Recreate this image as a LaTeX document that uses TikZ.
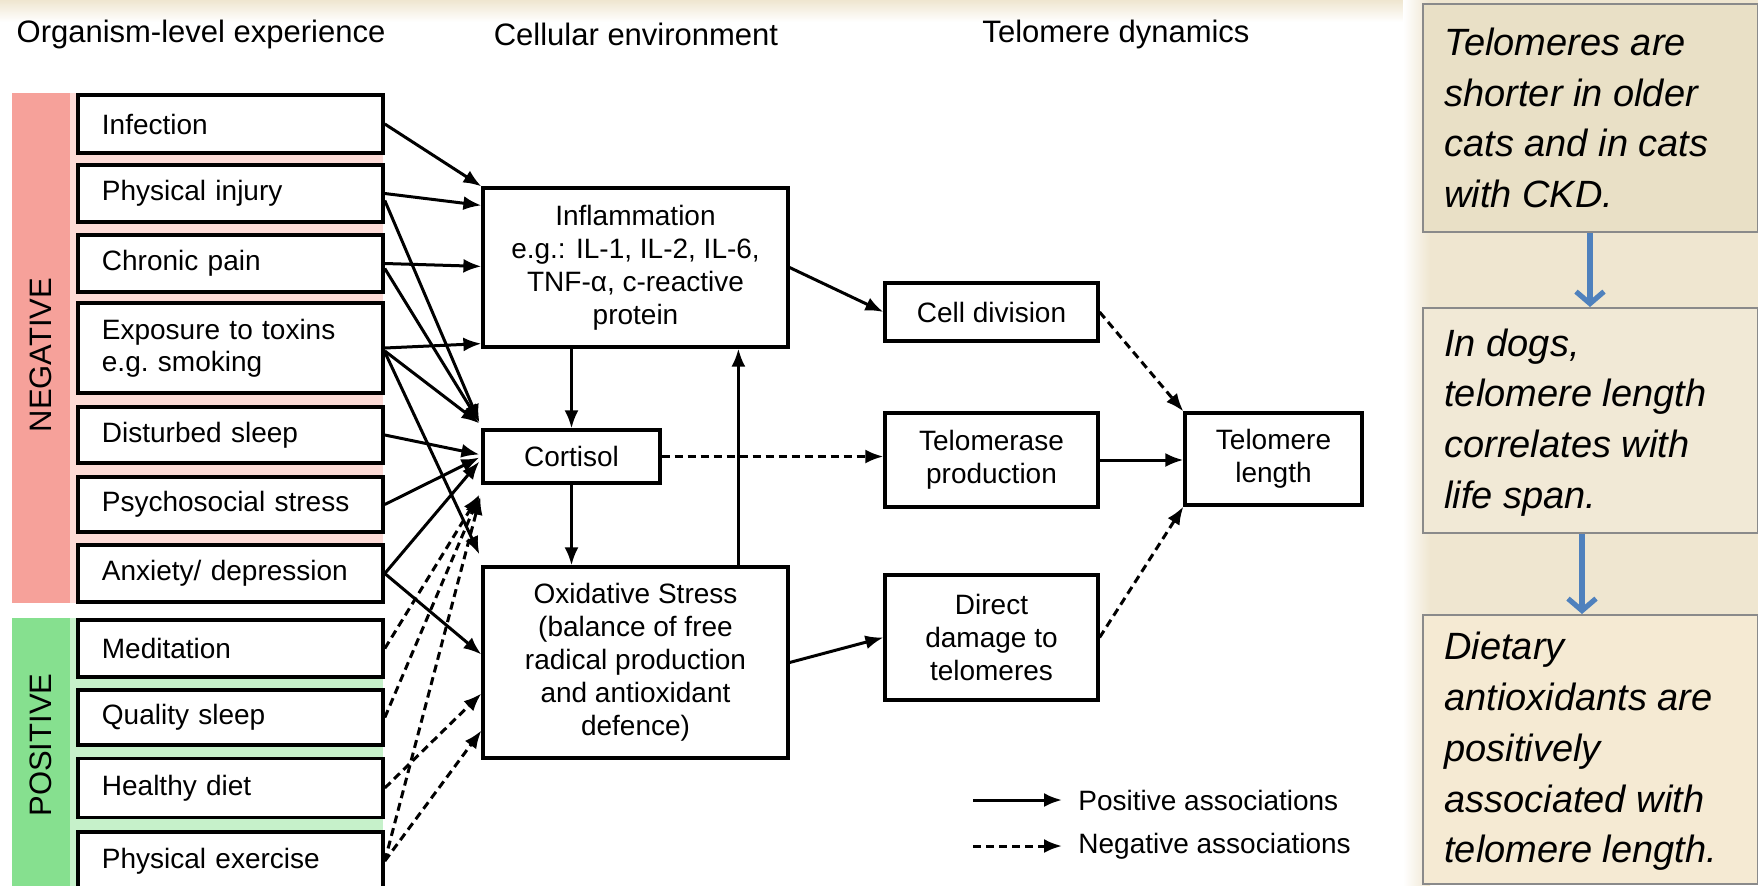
\documentclass[tikz,border=0pt]{standalone}
\usepackage{fontspec}
\setmainfont{Liberation Sans}
\usetikzlibrary{arrows.meta,calc}
\definecolor{negband}{HTML}{F6A19A}
\definecolor{neggap}{HTML}{FCDAD6}
\definecolor{posband}{HTML}{86E08F}
\definecolor{posgap}{HTML}{C6F1CA}
\definecolor{slidebg}{HTML}{EFE6D0}
\definecolor{noteA}{HTML}{E9E0C6}
\definecolor{noteB}{HTML}{F1E9D6}
\definecolor{noteC}{HTML}{F5EAD3}
\definecolor{notearrow}{HTML}{4F81BD}
\definecolor{notedraw}{HTML}{8A8A8A}
\begin{document}
\begin{tikzpicture}[x=0.5pt,y=-0.5pt,
 every node/.style={inner sep=0pt},
 expbox/.style={draw, line width=1.9pt, fill=white, anchor=west, text width=128.5pt, inner xsep=12pt, inner ysep=0pt, align=left, font=\fontsize{14}{16}\selectfont},
 cellbox/.style={draw, line width=1.6pt, fill=white, align=center, inner sep=0pt, font=\fontsize{14}{16.5}\selectfont},
 head/.style={font=\fontsize{15.5}{18}\selectfont},
 bandlabel/.style={rotate=90, font=\fontsize{15.5}{18}\selectfont},
 posarr/.style={line width=1.5pt, -{Latex[length=9pt,width=7pt]}},
 negarr/.style={posarr, dash pattern=on 4pt off 2.5pt},
 notebox/.style={draw=notedraw, line width=1pt, anchor=north west, minimum width=167.5pt, inner sep=0pt},
 notetext/.style={anchor=west, align=left, inner sep=0pt, font=\itshape\fontsize{19}{25.4}\selectfont},
 notearr/.style={draw=notearrow, line width=2.6pt, -{Straight Barb[length=6pt,width=14pt]}},
 legtext/.style={anchor=west, font=\fontsize{14}{16}\selectfont}
]
\useasboundingbox (0,0) rectangle (1758,885);
\clip (0,0) rectangle (1758,885);
% background
\fill[slidebg] (0,0) rectangle (1758,885);
\fill[white] (0,22) rectangle (1405,885);
\shade[top color=slidebg, bottom color=white] (0,0) rectangle (1405,22);
\shade[left color=white, right color=slidebg] (1403,0) rectangle (1430,885);
% bands
\fill[negband] (12,93) rectangle (70,603);
\fill[neggap] (70,93) rectangle (383,603);
\fill[posband] (12,618) rectangle (70,890);
\fill[posgap] (70,618) rectangle (383,890);
\node[bandlabel] (neg) at (41,355) {NEGATIVE};
\node[bandlabel] (posi) at (41,745) {POSITIVE};
% headers
\node[head] (h1) at (201,34) {Organism-level experience};
\node[head] (h2) at (636,34) {Cellular environment};
\node[head] (h3) at (1116,34) {Telomere dynamics};
% left boxes
\node[expbox, minimum height=29pt] (inf) at (76,124) {Infection};
\node[expbox, minimum height=28.5pt] (phys) at (76,193.5) {Physical injury};
\node[expbox, minimum height=28.5pt] (chron) at (76,263.5) {Chronic pain};
\node[expbox, minimum height=45pt] (expo) at (76,348) {Exposure to toxins\\e.g.\ smoking};
\node[expbox, minimum height=28pt] (sleepd) at (76,435) {Disturbed sleep};
\node[expbox, minimum height=27.5pt] (psy) at (76,504.5) {Psychosocial stress};
\node[expbox, minimum height=28.5pt] (anx) at (76,573.5) {Anxiety/ depression};
\node[expbox, minimum height=28.5pt] (medi) at (76,648.5) {Meditation};
\node[expbox, minimum height=27.5pt] (qsleep) at (76,717.5) {Quality sleep};
\node[expbox, minimum height=29.5pt] (diet) at (76,788) {Healthy diet};
\node[expbox, minimum height=29pt] (exer) at (76,861) {Physical exercise};
% cellular environment
\node[cellbox, minimum width=152.5pt, minimum height=79.5pt] (infl) at (635.5,267.5) {Inflammation\\e.g.: IL-1, IL-2, IL-6,\\TNF-α, c-reactive\\protein};
\node[cellbox, minimum width=88.5pt, minimum height=26.5pt] (cort) at (571.5,456.5) {Cortisol};
\node[cellbox, minimum width=152.5pt, minimum height=95.5pt] (oxid) at (635.5,662.5) {Oxidative Stress\\(balance of free\\radical production\\and antioxidant\\defence)};
% telomere dynamics
\node[cellbox, minimum width=106.5pt, minimum height=29pt] (cdiv) at (991.5,312) {Cell division};
\node[cellbox, minimum width=106.5pt, minimum height=47pt] (telo) at (991.5,460) {Telomerase\\production};
\node[cellbox, minimum width=106.5pt, minimum height=62.5pt] (dmg) at (991.5,637.5) {Direct\\damage to\\telomeres};
\node[cellbox, minimum width=88.5pt, minimum height=46pt] (tl) at (1273.5,459) {Telomere\\length};
% organism -> inflammation
\draw[posarr] (inf.east) -- (infl.north west);
\draw[posarr] (phys.east) -- ($(infl.north west)+(0,19)$);
\draw[posarr] (chron.east) -- ($(infl.north west)+(0,80)$);
\draw[posarr] (expo.east) -- ($(infl.south west)+(0,-5)$);
% organism -> cortisol
\draw[posarr] ($(phys.east)+(0,7)$) -- ($(cort.north west)+(-2,-6)$);
\draw[posarr] ($(chron.east)+(0,5)$) -- ($(cort.north west)+(-2,-6)$);
\draw[posarr] ($(expo.east)+(0,3)$) -- ($(cort.north west)+(-2,-5)$);
\draw[posarr] (sleepd.east) -- ($(cort.west)+(-2,-2)$);
\draw[posarr] (psy.east) -- ($(cort.west)+(-2,1)$);
\draw[posarr] (anx.east) -- ($(cort.west)+(-2,5)$);
% organism -> oxidative
\draw[posarr] ($(expo.east)+(0,4)$) -- ($(oxid.north west)+(-2,-11)$);
\draw[posarr] (anx.east) -- ($(oxid.west)+(0,-8)$);
% positive factors (dashed)
\draw[negarr] (medi.east) -- ($(cort.south west)+(-2,10)$);
\draw[negarr] (qsleep.east) -- ($(cort.south west)+(-2,11)$);
\draw[negarr] (exer.east) -- ($(cort.south west)+(-1,12)$);
\draw[negarr] (diet.east) -- ($(oxid.west)+(0,31)$);
\draw[negarr] (exer.east) -- ($(oxid.west)+(0,68)$);
% within cellular environment
\draw[posarr] (infl.south -| cort.north) -- (cort.north);
\draw[posarr] (cort.south) -- (cort.south |- oxid.north);
\draw[posarr] ($(oxid.north west)+(257,0)$) -- ($(infl.south west)+(257,0)$);
\draw[negarr] (cort.east) -- (cort.east -| telo.west);
\draw[posarr] (infl.east) -- (cdiv.west);
\draw[posarr] (oxid.east) -- (dmg.west);
% telomere dynamics
\draw[posarr] (telo.east) -- (telo.east -| tl.west);
\draw[negarr] (cdiv.east) -- (tl.north west);
\draw[negarr] (dmg.east) -- (tl.south west);
% legend
\coordinate (lp1) at (973,800);
\coordinate (lp2) at (1062,800);
\coordinate (ln1) at (973,846);
\coordinate (ln2) at (1062,846);
\draw[posarr] (lp1) -- (lp2);
\draw[negarr] (ln1) -- (ln2);
\node[legtext] (lpt) at (1078,800) {Positive associations};
\node[legtext] (lnt) at (1078,846) {Negative associations};
% right notes
\node[notebox, fill=noteA, minimum height=114pt] (n1) at (1422,3) {};
\node[notebox, fill=noteB, minimum height=112.5pt] (n2) at (1422,307) {};
\node[notebox, fill=noteC, minimum height=134.5pt] (n3) at (1422,614) {};
\node[notetext] (t1) at ($(n1.west)+(22,0)$) {Telomeres are\\shorter in older\\cats and in cats\\with CKD.};
\node[notetext] (t2) at ($(n2.west)+(22,2)$) {In dogs,\\telomere length\\correlates with\\life span.};
\node[notetext] (t3) at ($(n3.west)+(22,2)$) {Dietary\\antioxidants are\\positively\\associated with\\telomere length.};
\draw[notearr] ($(n1.south west)+(168,0)$) -- ($(n2.north west)+(168,0)$);
\draw[notearr] ($(n2.south west)+(160,0)$) -- ($(n3.north west)+(160,0)$);
\end{tikzpicture}
\end{document}
